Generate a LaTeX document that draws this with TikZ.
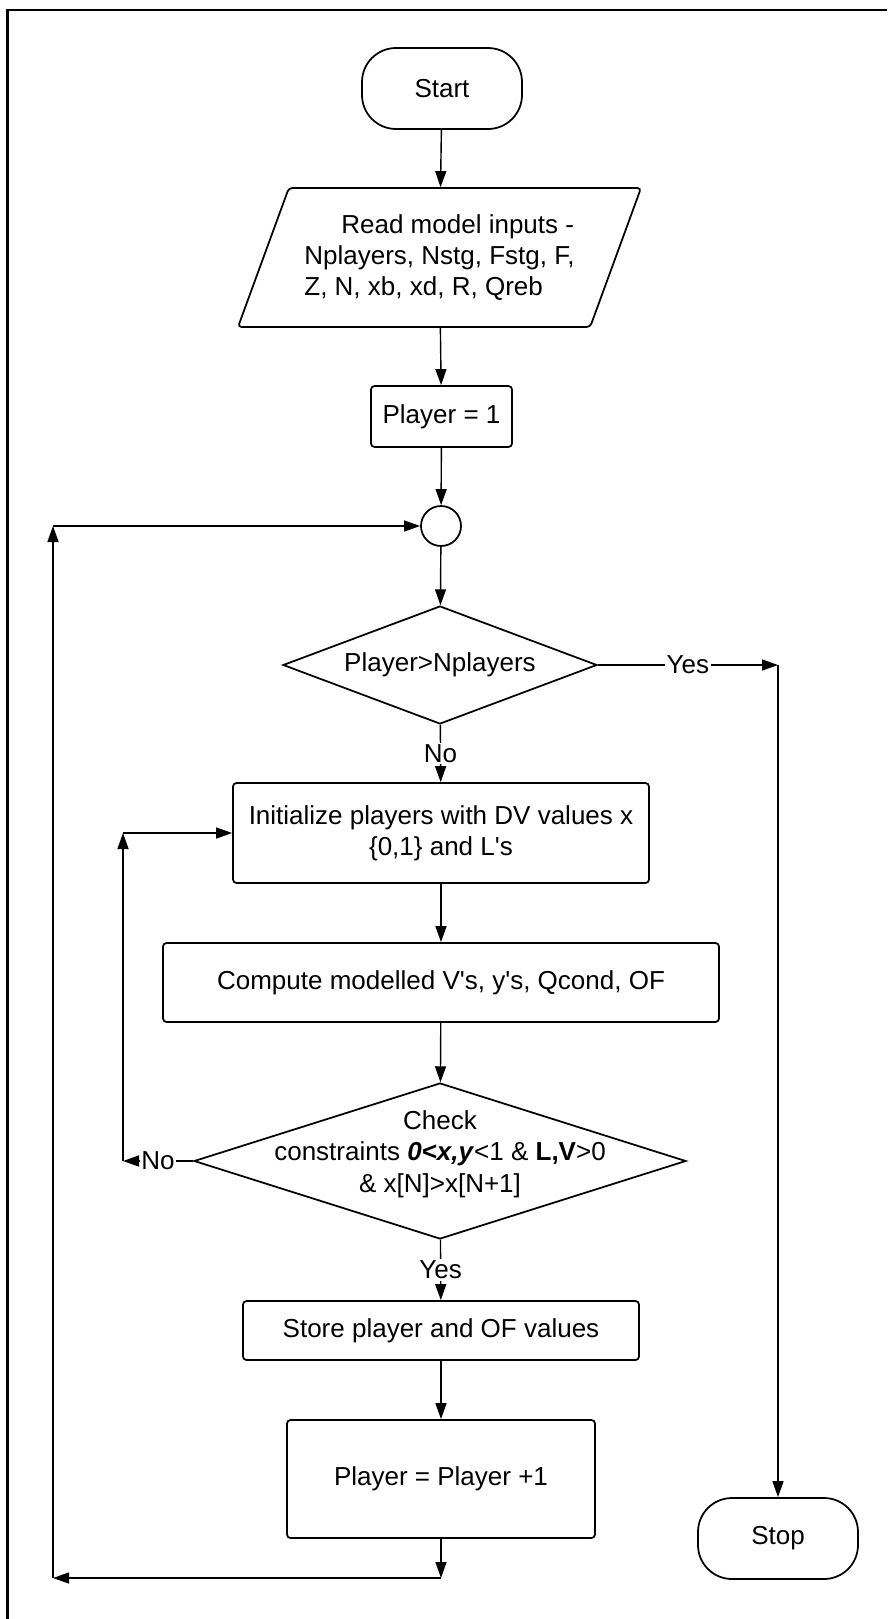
\documentclass[tikz,border=0pt]{standalone}
\usepackage{fontspec}
\setmainfont{Liberation Sans}
\usetikzlibrary{shapes.geometric,arrows.meta}

\begin{document}
\begin{tikzpicture}[y=-1cm,
		every node/.style={font=\fontsize{14.8}{17.8}\selectfont, align=center},
		box/.style={draw, line width=1pt, rounded corners=2pt, inner sep=0pt},
		term/.style={draw, line width=1pt, rounded corners=0.68cm, inner sep=0pt},
		decision/.style={draw, diamond, line width=1pt, inner sep=0pt},
		arr/.style={-{Triangle[length=0.32cm,width=0.22cm]}, line width=0.8pt},
		lbl/.style={fill=white, inner sep=1pt}]
	\useasboundingbox (0,0) rectangle (17.74,32.38);
	\draw[line width=1.4pt] (0.15,32.38) -- (0.15,0.2) -- (17.74,0.2);

	\node[term, minimum width=3.2cm, minimum height=1.62cm] (start) at (8.84,1.77) {Start};
	\node[draw, trapezium, trapezium left angle=59.5, trapezium right angle=120.5,
		trapezium stretches body, minimum width=8.06cm, minimum height=2.78cm,
		line width=1pt, rounded corners=2pt, inner sep=0pt, align=left] (inp) at (8.79,5.15)
		{\hspace*{0.74cm}Read model inputs -\\Nplayers, Nstg, Fstg, F,\\Z, N, xb, xd, R, Qreb};
	\node[box, minimum width=2.82cm, minimum height=1.22cm] (p1) at (8.83,8.33) {Player = 1};
	\node[draw, circle, minimum size=0.8cm, inner sep=0pt, line width=1pt] (join) at (8.82,10.52) {};
	\node[decision, aspect=2.66, minimum width=6.28cm, minimum height=2.36cm] (cmp1) at (8.8,13.3) {Player>Nplayers};
	\node[box, minimum width=8.32cm, minimum height=2cm] (init) at (8.82,16.66)
		{Initialize players with DV values x\\\{0,1\} and L\textquotesingle s};
	\node[box, minimum width=11.12cm, minimum height=1.58cm] (comp) at (8.82,19.65)
		{Compute modelled V\textquotesingle s, y\textquotesingle s, Qcond, OF};
	\node[decision, minimum width=9.84cm, minimum height=3.12cm] (chk) at (8.8,23.22)
		{\makebox[0pt]{\smash{\begin{tabular}{@{}c@{}}Check\\constraints \textbf{\textit{0<x,y}}<1 \& \textbf{L,V}>0\\\& x[N]>x[N+1]\end{tabular}}}};
	\node[box, minimum width=7.92cm, minimum height=1.18cm] (store) at (8.82,26.61) {Store player and OF values};
	\node[box, minimum width=6.16cm, minimum height=2.36cm] (p2) at (8.82,29.58) {Player = Player +1};
	\node[term, minimum width=3.2cm, minimum height=1.62cm] (stop) at (15.56,30.77) {Stop};

	\coordinate (yesc) at (15.56,13.3);
	\coordinate (noc) at (2.46,23.22);
	\coordinate (loopb) at (8.82,31.56);
	\coordinate (loopl) at (1.06,31.56);

	\draw[arr] (start) -- (inp);
	\draw[arr] (inp) -- (p1);
	\draw[arr] (p1) -- (join);
	\draw[arr] (join) -- (cmp1);
	\draw[arr] (cmp1) -- node[lbl] (yes1) {Yes} (yesc);
	\draw[arr] (yesc) -- (stop);
	\draw[arr] (cmp1) -- node[lbl] (no1) {No} (init);
	\draw[arr] (init) -- (comp);
	\draw[arr] (comp) -- (chk);
	\draw[arr] (chk) -- node[lbl] (no2) {No} (noc);
	\draw[arr] (noc) -- (noc |- init.west);
	\draw[arr] (noc |- init.west) -- (init);
	\draw[arr] (chk) -- node[lbl] (yes2) {Yes} (store);
	\draw[arr] (store) -- (p2);
	\draw[arr] (p2) -- (loopb);
	\draw[arr] (loopb) -- (loopl);
	\draw[arr] (loopl) -- (loopl |- join);
	\draw[arr] (loopl |- join) -- (join); % back to the top of the loop
\end{tikzpicture}
\end{document}
